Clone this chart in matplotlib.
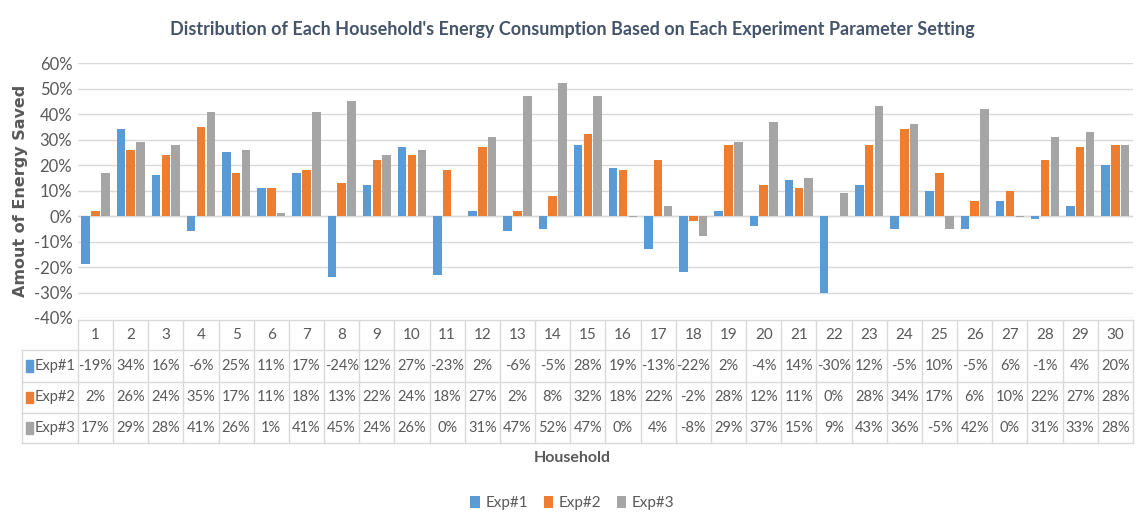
import matplotlib.pyplot as plt
import matplotlib.transforms as mtransforms
from matplotlib.patches import Rectangle
import numpy as np

plt.rcParams['font.family'] = ['Lato', 'DejaVu Sans']

households = [str(i) for i in range(1, 31)]
series_names = ['Exp#1', 'Exp#2', 'Exp#3']
exp1 = [-19, 34, 16, -6, 25, 11, 17, -24, 12, 27, -23, 2, -6, -5, 28, 19, -13, -22, 2, -4,
        14, -30, 12, -5, 10, -5, 6, -1, 4, 20]
exp2 = [2, 26, 24, 35, 17, 11, 18, 13, 22, 24, 18, 27, 2, 8, 32, 18, 22, -2, 28, 12,
        11, 0, 28, 34, 17, 6, 10, 22, 27, 28]
exp3 = [17, 29, 28, 41, 26, 1, 41, 45, 24, 26, 0, 31, 47, 52, 47, -0.3, 4, -8, 29, 37,
        15, 9, 43, 36, -5, 42, -0.3, 31, 33, 28]
colors = ['#5B9BD5', '#ED7D31', '#A5A5A5']
text_col = '#595959'
grid_col = '#D9D9D9'

fig = plt.figure(figsize=(11.45, 5.3), dpi=100)
ax = fig.add_axes([0.068, 0.40, 0.9215, 0.481])

x = np.arange(len(households))
data = [exp1, exp2, exp3]
width = 0.24
for i, (vals, c, name) in enumerate(zip(data, colors, series_names)):
    ax.bar(x + (i - 1) * 0.28, vals, width, color=c, label=name, zorder=3)

ax.set_xlim(-0.5, len(households) - 0.5)
ax.set_ylim(-40, 60)
ax.set_yticks(range(-40, 61, 10))
ax.set_yticklabels([f'{v}%' for v in range(-40, 61, 10)], fontsize=12, color=text_col)
ax.yaxis.grid(True, color=grid_col, lw=1, zorder=0)
ax.axhline(0, color=grid_col, lw=1, zorder=2)
ax.set_xticks([])
ax.tick_params(axis='y', length=0, pad=4)
for s in ax.spines.values():
    s.set_visible(False)

ax.set_ylabel('Amout of Energy Saved', fontsize=11.5, fontweight='bold', color=text_col,
              family=['DejaVu Sans'], labelpad=4)
fig.text(0.5, 0.945, "Distribution of Each Household's Energy Consumption Based on Each Experiment Parameter Setting",
         ha='center', va='center', fontsize=13, fontweight='bold', color='#44546A')

# data table below the plot
trans = mtransforms.blended_transform_factory(ax.transData, ax.transAxes)
px = 1 / 255.0
row_edges = [(318 - p) * px for p in (320, 350, 382, 413, 443)]
col_w = 1055 / 30
left_edge = -0.5 - (78 - 22) / col_w
line_kw = dict(color=grid_col, lw=1, clip_on=False, transform=trans)

for k, ye in enumerate(row_edges):
    x0 = -0.5 if k == 0 else left_edge
    ax.plot([x0, len(households) - 0.5], [ye, ye], **line_kw)
for j in range(len(households) + 1):
    ax.plot([j - 0.5, j - 0.5], [row_edges[0], row_edges[-1]], **line_kw)
ax.plot([left_edge, left_edge], [row_edges[1], row_edges[-1]], **line_kw)

hy = (row_edges[0] + row_edges[1]) / 2
for j, h in enumerate(households):
    ax.text(j, hy, h, ha='center', va='center', fontsize=11, color=text_col, transform=trans)

def fmt(v):
    r = int(round(v))
    return f'{r + 0}%'

for i, (vals, c, name) in enumerate(zip(data, colors, series_names)):
    yc = (row_edges[i + 1] + row_edges[i + 2]) / 2
    ax.add_patch(Rectangle((left_edge + 4 / col_w, yc - 0.022), 7 / col_w, 0.044, color=c,
                           transform=trans, clip_on=False))
    ax.text(left_edge + 13 / col_w, yc, name, ha='left', va='center', fontsize=10.5,
            color=text_col, transform=trans)
    for j, v in enumerate(vals):
        ax.text(j, yc, fmt(v), ha='center', va='center', fontsize=10.5,
                color=text_col, transform=trans)

fig.text(0.5, (530 - 458) / 530, 'Household', ha='center', va='center', fontsize=11.5,
         fontweight='bold', color=text_col)

handles, labels = ax.get_legend_handles_labels()
fig.legend(handles, labels, loc='center', bbox_to_anchor=(0.5, (530 - 503) / 530), ncol=3,
           frameon=False, fontsize=11, handlelength=0.6, handleheight=0.9,
           columnspacing=1.0, handletextpad=0.4, labelcolor=text_col)

fig.savefig('out.png', dpi=100, facecolor='white')
